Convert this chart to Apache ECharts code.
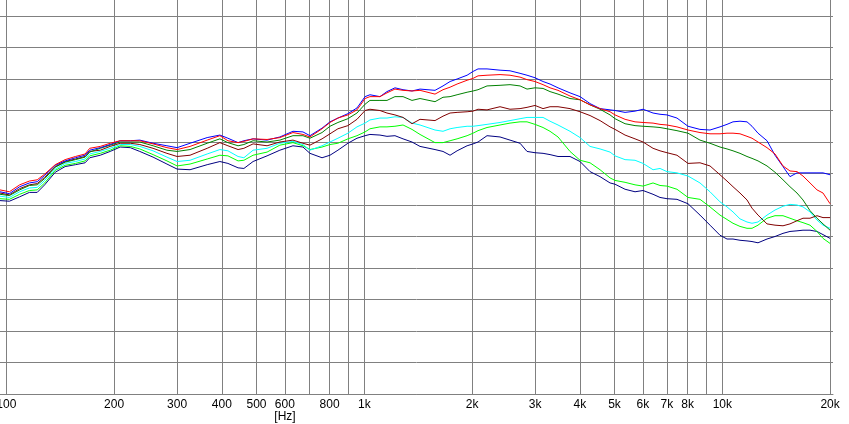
<!DOCTYPE html>
<html><head><meta charset="utf-8">
<script src="https://cdn.jsdelivr.net/npm/echarts@6/dist/echarts.min.js"></script>
<style>html,body{margin:0;padding:0;background:#fff}#c{width:849px;height:424px}</style>
</head><body><div id="c"></div>
<script>
// Frequencies (Hz) shared by all curves
const freqHz = [96,102,109,116,122,128,137,146,156,166,171,183,195,208,222,236,257,281,300,326,364,395,416,444,461,489,535,581,632,674,705,762,802,844,900,954,1005,1037,1106,1157,1218,1283,1359,1431,1576,1659,1736,1816,1937,2013,2078,2202,2394,2553,2723,2848,2998,3157,3302,3476,3755,4005,4271,4555,4858,5016,5350,5705,6006,6405,6699,7006,7471,8021,8663,9240,9854,10306,10713,11205,11722,12106,12582,13332,14035,14776,15455,16168,16803,17579,18386,19112,20000];

// Levels (dB)
const blue = [72.1,71.8,72.9,73.5,73.7,74.7,76.3,77.0,77.5,77.9,78.7,79.1,79.6,80.2,80.2,80.3,79.8,79.4,79.1,79.8,80.7,81.1,80.6,79.9,80.2,80.5,80.3,80.8,81.7,81.6,81.0,82.2,83.2,83.8,84.5,85.4,87.2,87.5,87.2,88.0,88.6,88.3,88.1,88.4,88.2,88.9,89.6,90.0,90.6,91.2,91.6,91.6,91.4,91.3,90.9,90.6,90.2,89.6,89.2,88.6,87.8,87.2,86.1,85.3,85.1,85.0,84.7,84.9,85.2,84.6,84.4,84.3,83.8,82.5,82.0,81.9,82.4,82.8,83.2,83.3,83.2,82.5,81.4,80.2,77.9,76.1,74.5,75.1,75.1,75.1,75.1,75.1,74.8];
const red = [72.4,72.1,73.2,73.8,74.0,74.9,76.4,77.2,77.7,78.1,79.0,79.3,79.8,80.2,80.2,80.2,79.7,79.1,78.8,79.3,80.3,81.0,80.2,79.9,80.1,80.5,80.4,80.7,81.5,81.2,80.8,82.1,83.1,83.8,84.3,85.1,86.9,87.2,87.2,87.8,88.4,88.2,88.1,88.2,87.6,88.3,88.7,89.2,89.8,90.1,90.5,90.6,90.7,90.6,90.3,89.9,89.6,89.1,88.6,88.2,87.3,86.7,85.9,85.3,84.8,84.3,83.6,83.2,83.1,83.0,82.8,82.7,82.4,81.9,81.5,81.3,81.3,81.4,81.4,81.3,80.9,80.6,80.0,79.1,78.1,76.2,75.4,75.3,74.6,73.5,72.4,71.9,70.2];
const green = [71.7,71.5,72.4,73.1,73.2,74.2,76.0,76.8,77.2,77.6,78.4,79.0,79.5,80.0,80.0,80.0,79.4,78.7,78.5,78.8,79.8,80.5,79.9,79.4,79.6,80.2,80.0,80.3,81.0,81.0,80.6,81.5,82.5,83.1,83.7,84.6,86.0,86.6,86.6,86.6,87.2,87.2,86.6,86.9,86.4,87.1,87.2,87.5,87.9,88.1,88.3,88.9,89.0,89.1,88.9,88.4,88.6,88.5,88.0,87.6,86.9,86.7,85.9,85.2,84.3,83.7,82.9,82.6,82.5,82.4,82.3,82.1,81.8,81.4,80.3,79.8,79.2,78.9,78.6,78.2,77.7,77.4,77.0,76.2,75.2,74.0,72.9,71.9,70.8,69.1,67.9,67.0,66.0];
const darkRed = [71.9,71.6,72.6,73.2,73.4,74.4,76.1,76.9,77.3,77.7,78.5,78.7,79.3,79.8,79.8,79.6,79.0,78.2,77.7,77.9,79.0,79.9,79.4,78.8,79.0,79.7,79.4,80.0,80.3,79.8,79.5,80.5,81.3,82.1,82.6,83.6,85.0,85.2,85.0,84.6,84.3,83.9,82.9,83.6,83.4,84.1,84.6,84.7,84.8,84.9,85.2,85.1,85.6,85.2,85.3,85.5,85.8,85.3,85.6,85.6,85.3,84.8,84.2,83.4,82.4,82.0,81.1,80.5,80.0,79.0,78.6,78.3,77.9,76.6,76.7,76.2,74.8,73.8,72.9,71.9,70.8,69.5,68.4,67.0,66.8,66.7,67.0,67.5,67.9,67.9,68.3,68.0,68.0];
const cyan = [71.4,71.2,72.1,72.7,72.8,73.9,75.7,76.6,76.9,77.3,78.1,78.5,79.0,79.6,79.6,79.3,78.6,77.6,76.9,77.1,78.1,78.8,78.6,77.7,77.5,78.7,79.0,79.8,80.1,79.6,78.7,79.4,80.0,80.6,81.4,82.4,83.0,83.5,83.8,83.8,84.0,83.9,83.0,82.7,81.9,81.7,82.1,82.3,82.5,82.5,82.6,82.8,83.1,83.4,83.7,83.9,83.9,83.9,83.3,82.7,81.7,80.7,79.3,78.9,78.4,77.8,77.2,77.1,76.6,75.6,75.8,75.3,75.1,74.6,73.5,72.1,70.5,69.7,68.9,67.8,67.3,67.1,67.3,68.4,69.2,69.8,70.1,70.0,69.7,68.9,67.6,66.8,66.3];
const lime = [71.0,70.9,71.7,72.3,72.4,73.5,75.5,76.3,76.6,77.0,77.8,78.2,78.7,79.4,79.3,78.9,78.0,77.0,76.2,76.5,77.3,77.9,77.8,77.0,77.1,77.9,78.4,79.5,79.9,79.4,78.8,79.2,79.6,79.8,80.5,81.0,81.6,82.1,82.4,82.4,82.5,82.7,82.0,81.2,79.9,79.9,80.2,80.5,81.0,81.4,81.8,82.3,82.7,83.0,83.2,83.2,82.8,82.3,81.7,80.8,78.5,77.1,76.7,75.6,74.3,73.9,73.6,73.2,73.0,73.5,73.1,73.0,72.5,71.2,70.9,69.7,68.4,67.7,67.1,66.6,66.3,66.3,66.8,67.9,68.3,68.3,67.9,67.5,67.2,66.8,65.8,64.7,63.9];
const navy = [70.7,70.6,71.3,72.0,72.0,73.2,75.2,76.1,76.4,76.7,77.5,77.9,78.5,79.2,79.1,78.5,77.6,76.5,75.7,75.6,76.4,76.9,76.6,75.9,75.8,76.9,77.8,78.7,79.4,79.2,78.2,77.5,77.9,78.7,79.8,80.6,81.0,81.2,81.1,80.9,81.0,80.5,80.0,79.3,78.8,78.5,77.9,78.6,79.4,79.7,80.0,81.0,80.8,80.3,79.8,78.5,78.3,78.2,78.0,77.7,77.7,76.9,75.3,74.5,73.5,73.3,72.5,72.1,72.3,71.7,71.2,71.0,70.9,70.2,68.4,66.8,65.2,64.6,64.6,64.4,64.3,64.2,64.0,64.6,65.0,65.5,65.8,65.9,66.0,66.0,65.8,65.3,64.7];

// Axis ticks
const gridHz = [100,200,300,400,500,600,700,800,900,1000,2000,3000,4000,5000,6000,7000,8000,9000,10000,20000];
const labelHz = [100,200,300,400,500,600,800,1000,2000,3000,4000,5000,6000,7000,8000,10000,20000];

const curves = [
  {name:'navy', color:'#000080', values:navy},
  {name:'lime', color:'#00ff00', values:lime},
  {name:'cyan', color:'#00ffff', values:cyan},
  {name:'darkRed', color:'#800000', values:darkRed},
  {name:'green', color:'#008000', values:green},
  {name:'blue', color:'#0000ff', values:blue},
  {name:'red', color:'#ff0000', values:red}
];

const chart = echarts.init(document.getElementById('c'), null, {renderer:'canvas'});
const FONT = '"Liberation Sans", Arial, sans-serif';
chart.setOption({
  animation:false,
  backgroundColor:'#ffffff',
  grid:{left:0, right:16, top:-15.5, bottom:30, containLabel:false, outerBoundsMode:'none'},
  xAxis:{
    type:'value',
    min:1.9824, max:4.30922,
    axisLine:{show:true, lineStyle:{color:'#808080', width:1}},
    axisTick:{show:false, customValues:gridHz.map(f=>Math.log10(f))},
    axisLabel:{
      customValues:labelHz.map(f=>Math.log10(f)),
      color:'#000', fontSize:12, fontFamily:FONT, margin:5,
      formatter:function(v){const f=Math.round(Math.pow(10,v));return f>=1000?(f/1000)+'k':String(f);}
    },
    splitLine:{show:true, lineStyle:{color:'#808080', width:1}}
  },
  yAxis:{
    type:'value', min:40, max:105, interval:5,
    axisLine:{show:false}, axisTick:{show:false}, axisLabel:{show:false},
    splitLine:{show:true, lineStyle:{color:'#808080', width:1}}
  },
  graphic:[{type:'text', x:285, y:417, style:{text:'[Hz]', align:'center', verticalAlign:'middle', font:'12px '+FONT, fill:'#000'}}],
  series:curves.map(c=>({
    name:c.name, type:'line', showSymbol:false, symbol:'none',
    lineStyle:{color:c.color, width:1}, itemStyle:{color:c.color},
    data:freqHz.map((f,i)=>[Math.log10(f), c.values[i]])
  }))
});
</script>
</body></html>
